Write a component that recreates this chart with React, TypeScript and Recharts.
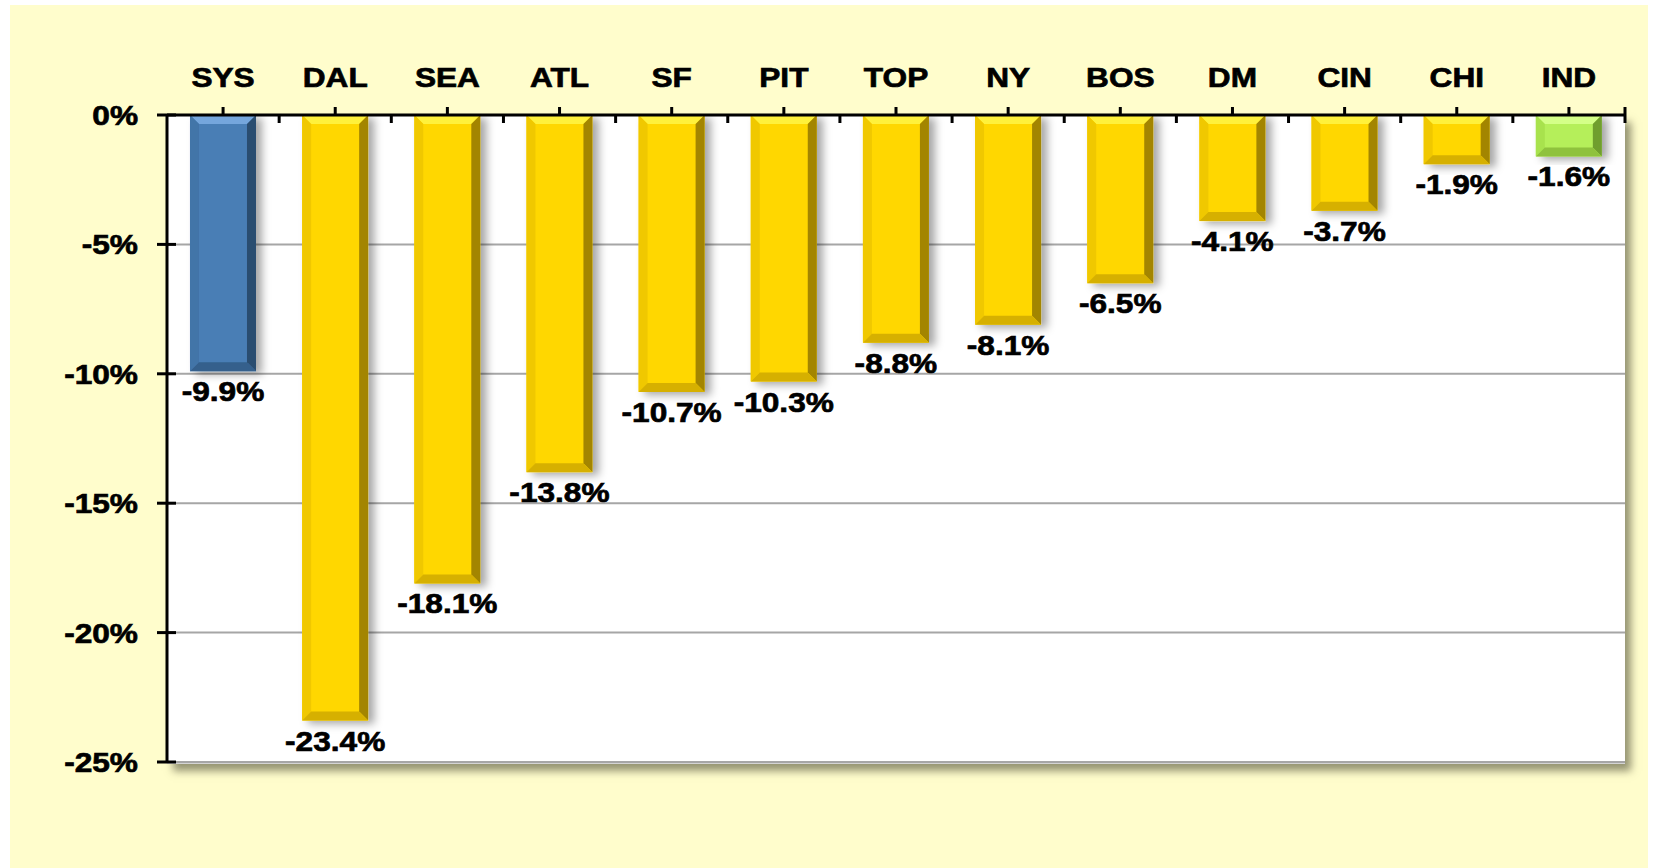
import { BarChart, Bar, XAxis, YAxis, CartesianGrid, Cell, LabelList } from "recharts";

const categories = ["SYS", "DAL", "SEA", "ATL", "SF", "PIT", "TOP", "NY", "BOS", "DM", "CIN", "CHI", "IND"];
const changes = [-9.9, -23.4, -18.1, -13.8, -10.7, -10.3, -8.8, -8.1, -6.5, -4.1, -3.7, -1.9, -1.6];
const yTicks = [0, -5, -10, -15, -20, -25];
const barColors = [
  "#4a7eb5", "#ffd700", "#ffd700", "#ffd700", "#ffd700", "#ffd700", "#ffd700",
  "#ffd700", "#ffd700", "#ffd700", "#ffd700", "#ffd700", "#b5ef5a",
];

const data = categories.map((name, i) => ({ name, value: changes[i] }));

// bevel shades per base colour
const shades: Record<string, { light: string; side: string; dark: string; bottom: string }> = {
  "#4a7eb5": { light: "#75a6dc", side: "#4374a8", dark: "#24415f", bottom: "#35608c" },
  "#ffd700": { light: "#fff13a", side: "#f0c800", dark: "#8c7000", bottom: "#d6b000" },
  "#b5ef5a": { light: "#d4ff88", side: "#a8e24e", dark: "#5e8a22", bottom: "#8fc23c" },
};

const FONT = '"Liberation Sans", Arial, sans-serif';
const PLOT_LEFT = 167;
const PLOT_RIGHT = 1625;
const PLOT_TOP = 115;
const PLOT_BOTTOM = 762;
const BAND = (PLOT_RIGHT - PLOT_LEFT) / categories.length;

// the source text is a little wider and heavier than plain Arial Bold
const WideText = ({ x, y, anchor, children }: any) => (
  <text
    transform={`translate(${x} ${y}) scale(1.11 1)`}
    textAnchor={anchor}
    fontFamily={FONT}
    fontWeight="bold"
    fontSize={28.5}
    fill="#000"
    stroke="#000"
    strokeWidth={0.7}
  >
    {children}
  </text>
);

const BevelBar = (props: any) => {
  const { x, width, fill } = props;
  const y = Math.min(props.y, props.y + props.height);
  const h = Math.abs(props.height);
  const w = width;
  const s = shades[fill] || shades["#ffd700"];
  const b = Math.min(9, h / 3, w / 4);
  return (
    <g filter="url(#barShadow)">
      <rect x={x} y={y} width={w} height={h} fill={fill} />
      <polygon points={`${x},${y} ${x + w},${y} ${x + w - b},${y + b} ${x + b},${y + b}`} fill={s.light} />
      <polygon points={`${x},${y} ${x + b},${y + b} ${x + b},${y + h - b} ${x},${y + h}`} fill={s.side} />
      <polygon points={`${x + w},${y} ${x + w - b},${y + b} ${x + w - b},${y + h - b} ${x + w},${y + h}`} fill={s.dark} opacity={0.8} />
      <polygon points={`${x},${y + h} ${x + w},${y + h} ${x + w - b},${y + h - b} ${x + b},${y + h - b}`} fill={s.bottom} />
    </g>
  );
};

const XTick = (props: any) => {
  const { x, payload, index } = props;
  return (
    <g>
      <line x1={x} x2={x} y1={PLOT_TOP} y2={PLOT_TOP - 8} stroke="#000" strokeWidth={3} />
      <line x1={x + BAND / 2} x2={x + BAND / 2} y1={PLOT_TOP} y2={PLOT_TOP + 8} stroke="#000" strokeWidth={3} />
      {index === categories.length - 1 && (
        <line x1={x + BAND / 2} x2={x + BAND / 2} y1={PLOT_TOP - 8} y2={PLOT_TOP} stroke="#000" strokeWidth={3} />
      )}
      <WideText x={x} y={PLOT_TOP - 28} anchor="middle">
        {payload.value}
      </WideText>
    </g>
  );
};

const YTick = (props: any) => {
  const { y, payload } = props;
  return (
    <g>
      <line x1={PLOT_LEFT - 10} x2={PLOT_LEFT + 9} y1={y} y2={y} stroke="#000" strokeWidth={3} />
      <WideText x={PLOT_LEFT - 29} y={y + 10} anchor="end">
        {`${payload.value}%`}
      </WideText>
    </g>
  );
};

const ValueLabel = (props: any) => {
  const { x, y, width, height, value } = props;
  const bottom = Math.max(y, y + height);
  return (
    <WideText x={x + width / 2} y={bottom + 30} anchor="middle">
      {`${Number(value).toFixed(1)}%`}
    </WideText>
  );
};

export default function App() {
  return (
    <div style={{ position: "absolute", left: 0, top: 0, width: 1658, height: 868, background: "#fff" }}>
      <div style={{ position: "absolute", left: 10, top: 5, width: 1638, height: 863, background: "#fffdcc" }} />
      <div
        style={{
          position: "absolute",
          left: PLOT_LEFT,
          top: PLOT_TOP,
          width: PLOT_RIGHT - PLOT_LEFT,
          height: PLOT_BOTTOM - PLOT_TOP,
          background: "#fff",
          borderBottom: "2px solid #d4d4d4",
          boxShadow: "6px 7px 8px rgba(60,60,40,0.55)",
        }}
      />
      <div style={{ position: "absolute", left: 0, top: 0 }}>
        <BarChart
          width={1658}
          height={868}
          data={data}
          margin={{ top: PLOT_TOP - 40, left: PLOT_LEFT - 60, right: 1658 - PLOT_RIGHT, bottom: 868 - PLOT_BOTTOM }}
          barCategoryGap="20.5%"
        >
          <defs>
            <filter id="barShadow" x="-20%" y="-10%" width="160%" height="130%">
              <feDropShadow dx={6} dy={3} stdDeviation={4} floodColor="#000" floodOpacity={0.35} />
            </filter>
          </defs>
          <CartesianGrid horizontal vertical={false} stroke="#a6a6a6" strokeWidth={2} />
          <XAxis
            dataKey="name"
            orientation="top"
            height={40}
            axisLine={{ stroke: "#000", strokeWidth: 3 }}
            tickLine={false}
            tick={<XTick />}
            interval={0}
          />
          <YAxis
            width={60}
            domain={[-25, 0]}
            ticks={yTicks}
            allowDataOverflow
            axisLine={{ stroke: "#000", strokeWidth: 3 }}
            tickLine={false}
            tick={<YTick />}
          />
          <Bar dataKey="value" shape={<BevelBar />} isAnimationActive={false}>
            {data.map((d, i) => (
              <Cell key={d.name} fill={barColors[i]} />
            ))}
            <LabelList dataKey="value" content={<ValueLabel />} />
          </Bar>
        </BarChart>
      </div>
    </div>
  );
}
